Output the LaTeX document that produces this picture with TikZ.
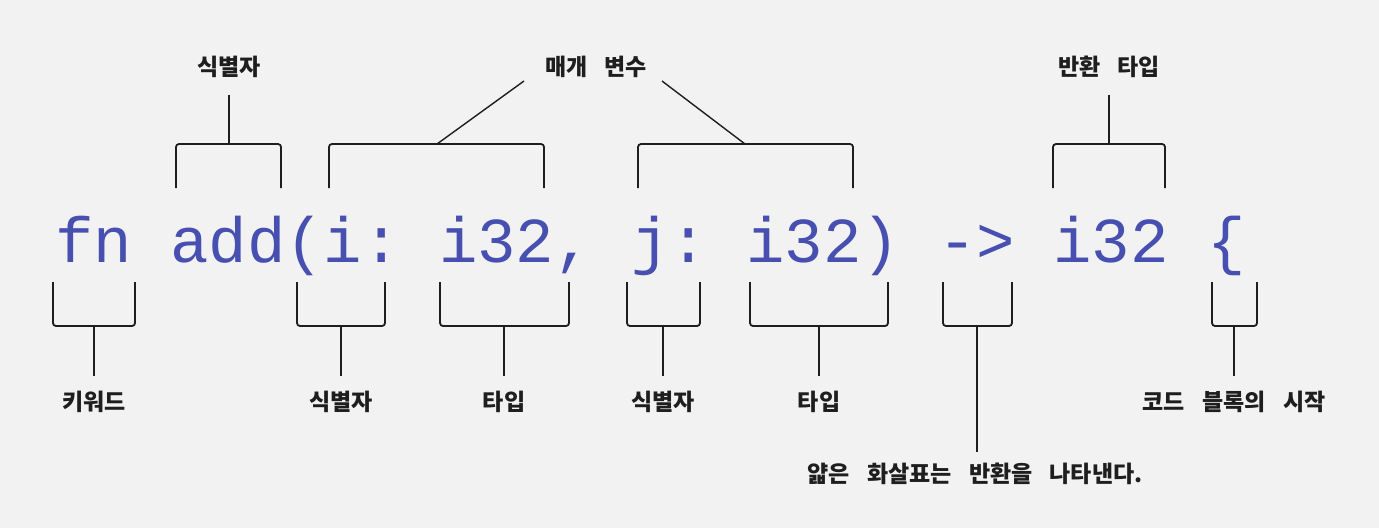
\documentclass[tikz,border=0pt]{standalone}
\usepackage{fontspec}
\newfontfamily\kr{Noto Sans CJK KR}
\newfontfamily\codefont{Liberation Mono}
\definecolor{bg}{HTML}{F2F2F2}
\definecolor{codeblue}{HTML}{474FB0}
\definecolor{ink}{HTML}{1E1E1E}
\newcommand\gap{\hspace{0.75em}}
\tikzset{
  brk/.style={draw=ink, line width=1.8pt, rounded corners=3pt},
  stem/.style={draw=ink, line width=1.4pt},
  lbl/.style={font=\kr\bfseries\fontsize{23}{27}\selectfont, text=ink, inner sep=0pt, anchor=center},
  codetxt/.style={font=\codefont\fontsize{64}{70}\selectfont\frenchspacing, text=codeblue, inner sep=0pt, anchor=base west}
}
\begin{document}
\begin{tikzpicture}[x=1pt,y=-1pt]
\fill[bg] (0,0) rectangle (1379,528);
\useasboundingbox (0,0) rectangle (1379,528);

\node[codetxt] (code) at (55,262) {fn add(i: i32, j: i32) -> i32 \{};

% top labels
\node[lbl] (tId) at (229,67) {식별자};
\node[lbl] (tPar) at (596,67) {매개\gap 변수};
\node[lbl] (tRet) at (1109,67) {반환\gap 타입};

% top brackets
\draw[brk] (176,188) -- (176,144) -- (281,144) -- (281,188);
\draw[brk] (329,188) -- (329,144) -- (544,144) -- (544,188);
\draw[brk] (638,188) -- (638,144) -- (853,144) -- (853,188);
\draw[brk] (1053,188) -- (1053,144) -- (1165,144) -- (1165,188);

\coordinate (cId) at (229,144);  \coordinate (eId) at (229,95);
\coordinate (cP1) at (437,144);  \coordinate (eP1) at (524,81);
\coordinate (cP2) at (745,144);  \coordinate (eP2) at (662,81);
\coordinate (cRet) at (1109,144); \coordinate (eRet) at (1109,95);
\draw[stem] (cId) -- (eId);
\draw[stem] (cP1) -- (eP1);
\draw[stem] (cP2) -- (eP2);
\draw[stem] (cRet) -- (eRet);

% bottom brackets
\draw[brk] (53,282) -- (53,326) -- (135,326) -- (135,282);
\draw[brk] (297,282) -- (297,326) -- (385,326) -- (385,282);
\draw[brk] (440,282) -- (440,326) -- (569,326) -- (569,282);
\draw[brk] (627,282) -- (627,326) -- (700,326) -- (700,282);
\draw[brk] (750,282) -- (750,326) -- (888,326) -- (888,282);
\draw[brk] (943,282) -- (943,326) -- (1012,326) -- (1012,282);
\draw[brk] (1212,282) -- (1212,326) -- (1257,326) -- (1257,282);

% bottom labels
\node[lbl] (bKw) at (94,402) {키워드};
\node[lbl] (bId1) at (341,402) {식별자};
\node[lbl] (bTy1) at (504,402) {타입};
\node[lbl] (bId2) at (663,402) {식별자};
\node[lbl] (bTy2) at (819,402) {타입};
\node[lbl] (bBlk) at (1234,402) {코드\gap 블록의\gap 시작};
\node[lbl] (bArr) at (975,474) {얇은\gap 화살표는\gap 반환을\gap 나타낸다.};

\coordinate (sKw) at (94,326);   \coordinate (fKw) at (94,376);
\coordinate (sId1) at (341,326); \coordinate (fId1) at (341,376);
\coordinate (sTy1) at (504,326); \coordinate (fTy1) at (504,376);
\coordinate (sId2) at (663,326); \coordinate (fId2) at (663,376);
\coordinate (sTy2) at (819,326); \coordinate (fTy2) at (819,376);
\coordinate (sArr) at (977,326); \coordinate (fArr) at (977,452);
\coordinate (sBlk) at (1234,326); \coordinate (fBlk) at (1234,376);
\draw[stem] (sKw) -- (fKw);
\draw[stem] (sId1) -- (fId1);
\draw[stem] (sTy1) -- (fTy1);
\draw[stem] (sId2) -- (fId2);
\draw[stem] (sTy2) -- (fTy2);
\draw[stem] (sArr) -- (fArr);
\draw[stem] (sBlk) -- (fBlk);
\end{tikzpicture}
\end{document}
